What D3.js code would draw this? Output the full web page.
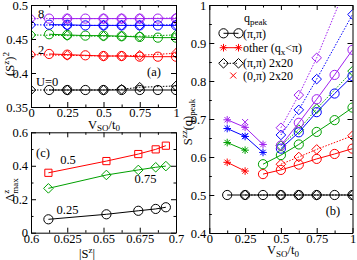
<!DOCTYPE html>
<html>
<head>
<meta charset="utf-8">
<script src="https://cdn.jsdelivr.net/npm/d3@7"></script>
<style>
  body { margin: 0; background: #fff; }
  svg text { font-family: "Liberation Serif", "Times New Roman", serif; fill: #000; }
</style>
</head>
<body>
<svg id="chart" width="357" height="260"></svg>
<script>
// one colour per U = 0, 2, 4, 6, 8
const colors = ['#000000', '#ff0000', '#00a000', '#0000ff', '#a020f0'];

// ---- panel (a): (S^z)^2 vs V_SO/t_0 ----
const vsoA = [0.125, 0.25, 0.375, 0.5, 0.625, 0.75, 0.875, 1];
const vsoA2x20 = [0, 0.25, 0.5, 0.625, 0.75, 1];
const sz2 = [
  [0.375, 0.375, 0.375, 0.375, 0.375, 0.375, 0.375, 0.375],
  [0.428, 0.427, 0.426, 0.425, 0.425, 0.424, 0.424, 0.424],
  [0.457, 0.456, 0.455, 0.455, 0.454, 0.453, 0.452, 0.452],
  [0.471, 0.471, 0.470, 0.470, 0.470, 0.470, 0.470, 0.470],
  [0.480, 0.480, 0.480, 0.480, 0.480, 0.480, 0.480, 0.480]
];
const sz2_2x20 = [
  [0.375, 0.375, 0.375, 0.376, 0.379, 0.381],
  [0.427, 0.426, 0.425, 0.425, 0.426, 0.429],
  [0.456, 0.455, 0.454, 0.454, 0.454, 0.456],
  [0.471, 0.470, 0.470, 0.470, 0.470, 0.471],
  [0.480, 0.480, 0.480, 0.480, 0.480, 0.481]
];

// ---- panel (b): S^zz(q)_peak vs V_SO/t_0 ----
const peakPiX = [
  [0.125, 0.25, 0.375, 0.5, 0.625, 0.75, 0.875, 1],
  [0.375, 0.5, 0.625, 0.75, 0.875, 1],
  [0.375, 0.5, 0.625, 0.75, 0.875, 1],
  [0.5, 0.625, 0.75, 0.875, 1],
  [0.5, 0.625, 0.75, 0.875, 1]
];
const peakPiY = [
  [0.5, 0.5, 0.5, 0.5, 0.5, 0.5, 0.5, 0.5],
  [0.555, 0.566, 0.58, 0.595, 0.608, 0.622],
  [0.581, 0.605, 0.633, 0.666, 0.697, 0.73],
  [0.622, 0.665, 0.718, 0.767, 0.813],
  [0.63, 0.69, 0.752, 0.816, 0.882]
];
const peakOtherX = [[], [0.125, 0.25], [0.125, 0.25], [0.125, 0.25, 0.375], [0.125, 0.25, 0.375]];
const peakOtherY = [[], [0.586, 0.563], [0.638, 0.618], [0.675, 0.654, 0.612], [0.698, 0.678, 0.633]];
const peak2x20X = [
  [0.25, 0.5, 0.625, 0.75, 1],
  [0.5, 0.625, 0.75, 1],
  [0.5, 0.625, 0.75, 1],
  [0.5, 0.625, 0.75, 1],
  [0.5, 0.625, 0.75, 1]
];
const peak2x20Y = [
  [0.5, 0.5, 0.5, 0.5, 0.5],
  [0.581, 0.600, 0.620, 0.656],
  [0.630, 0.672, 0.727, 0.826],
  [0.658, 0.724, 0.805, 0.975],
  [0.677, 0.763, 0.861, 1.09]
];
const peak0PiX = [[], [], [], [0.25], [0.25]];
const peak0PiY = [[], [], [], [0.655], [0.692]];
const legendLabels = ['(\u03c0,\u03c0)', 'other (q', '(\u03c0,\u03c0) 2x20', '(0,\u03c0) 2x20'];

// ---- panel (c): Delta^z_max vs |S^z| ----
const absSz = [0.612, 0.652, 0.674, 0.686, 0.693];
const vsoC = ['0.25', '0.5', '0.75'];
const deltaMax = [
  [0.080, 0.110, 0.131, 0.142, 0.152],
  [0.358, 0.428, 0.470, 0.498, 0.520],
  [0.265, 0.345, 0.375, 0.391, 0.398]
];
const deltaColors = ['#000000', '#ff0000', '#00a000'];
const deltaMarkers = ['circle', 'square', 'diamond'];

// tick values
const ticksVso = [0, 0.25, 0.5, 0.75, 1];
const ticksSz2 = [0.35, 0.4, 0.45, 0.5];
const ticksPeak = [0.4, 0.5, 0.6, 0.7, 0.8, 0.9, 1];
const ticksAbsSz = [0.6, 0.625, 0.65, 0.675, 0.7];
const ticksDelta = [0, 0.2, 0.4, 0.6];

const svg = d3.select('#chart');
const FONT = 12.5;

const markerPath = {
  circle: r => `M${r},0A${r},${r} 0 1,1 ${-r},0A${r},${r} 0 1,1 ${r},0Z`,
  diamond: r => `M0,${-r}L${r},0L0,${r}L${-r},0Z`,
  square: r => `M${-r},${-r}H${r}V${r}H${-r}Z`,
  star: r => {
    const d = r * Math.SQRT1_2;
    return `M${-r},0H${r}M0,${-r}V${r}M${-d},${-d}L${d},${d}M${-d},${d}L${d},${-d}`;
  },
  cross: r => `M${-r},${-r}L${r},${r}M${-r},${r}L${r},${-r}`
};
const markerSize = { circle: 4.6, diamond: 4.8, square: 3.6, star: 3.8, cross: 3 };

function fmt (d) { return String(+d.toFixed(3)); }

// four inward-ticked axes, labels only bottom / left
function drawFrame (g, x, y, o) {
  const [x0, x1] = x.range();
  const [y0, y1] = y.range();
  const sides = [
    [d3.axisBottom, x, `translate(0,${y0})`, true],
    [d3.axisTop, x, `translate(0,${y1})`, false],
    [d3.axisLeft, y, `translate(${x0},0)`, true],
    [d3.axisRight, y, `translate(${x1},0)`, false]
  ];
  sides.forEach(([make, scale, tr, labels], i) => {
    const isX = i < 2;
    const major = isX ? o.xTicks : o.yTicks;
    const step = isX ? o.xMinor : o.yMinor;
    const dom = scale.domain();
    const minor = d3.range(dom[0], dom[1] + 1e-9, step)
      .filter(v => !major.some(m => Math.abs(m - v) < 1e-9));

    g.append('g').attr('transform', tr)
      .call(make(scale).tickValues(minor).tickSize(-2.5).tickSizeOuter(0).tickFormat(''))
      .call(s => s.select('.domain').remove());

    g.append('g').attr('transform', tr)
      .call(make(scale).tickValues(major).tickSize(-5).tickSizeOuter(0)
        .tickPadding(isX ? 1 : 3).tickFormat(labels ? fmt : ''))
      .call(s => s.selectAll('text')
        .style('font-family', '"Liberation Serif", serif')
        .style('font-size', FONT + 'px'));
  });
  g.selectAll('.domain, .tick line').attr('stroke', '#000').attr('stroke-width', 1);
}

function drawSeries (g, x, y, xs, ys, color, marker, dashed) {
  const pts = xs.map((v, i) => [v, ys[i]]);
  if (pts.length > 1 && dashed !== null) {
    g.append('path')
      .datum(pts)
      .attr('fill', 'none')
      .attr('stroke', color)
      .attr('stroke-width', 1)
      .attr('stroke-dasharray', dashed ? '1.5,1.5' : null)
      .attr('d', d3.line().x(d => x(d[0])).y(d => y(d[1])));
  }
  g.append('g')
    .selectAll('path')
    .data(pts)
    .join('path')
    .attr('transform', d => `translate(${x(d[0])},${y(d[1])})`)
    .attr('d', markerPath[marker](markerSize[marker]))
    .attr('fill', 'none')
    .attr('stroke', color)
    .attr('stroke-width', 1);
}

function clip (id, x, y) {
  svg.append('clipPath').attr('id', id)
    .append('rect')
    .attr('x', x.range()[0]).attr('y', y.range()[1])
    .attr('width', x.range()[1] - x.range()[0])
    .attr('height', y.range()[0] - y.range()[1]);
  return `url(#${id})`;
}

function label (g, x, y, parts, opts = {}) {
  const t = g.append('text')
    .attr('x', x).attr('y', y)
    .attr('text-anchor', opts.anchor || 'start')
    .style('font-size', (opts.size || FONT) + 'px');
  if (opts.rotate) t.attr('transform', `rotate(-90,${x},${y})`);
  parts.forEach(p => {
    const s = t.append('tspan').text(p.t);
    if (p.dy) s.attr('dy', p.dy);
    if (p.dx) s.attr('dx', p.dx);
    if (p.small) s.style('font-size', '9px');
  });
  return t;
}

// ---------------- panel (a) ----------------
const xA = d3.scaleLinear().domain([0, 1]).range([31, 176]);
const yA = d3.scaleLinear().domain([0.35, 0.5]).range([107, 5]);
const gA = svg.append('g');
const plotA = gA.append('g').attr('clip-path', clip('clipA', xA, yA));
sz2.forEach((ys, k) => {
  drawSeries(plotA, xA, yA, vsoA2x20, sz2_2x20[k], colors[k], 'diamond', true);
  drawSeries(plotA, xA, yA, vsoA, ys, colors[k], 'circle', false);
});
drawFrame(gA, xA, yA, { xTicks: ticksVso, xMinor: 0.125, yTicks: ticksSz2, yMinor: 0.025 });
label(gA, 38, 17.5, [{ t: '8' }]);
label(gA, 38, 53.5, [{ t: '2' }]);
label(gA, 36, 86, [{ t: 'U=0' }]);
label(gA, 154, 76, [{ t: '(a)' }], { anchor: 'middle' });
label(gA, 14, 64, [{ t: '(S' }, { t: 'z', small: true, dy: -5 }, { t: ')', dy: 5 },
  { t: '2', small: true, dy: -5 }], { anchor: 'middle', rotate: true });
label(gA, 104, 128.5, [{ t: 'V' }, { t: 'SO', small: true, dy: 2.5 }, { t: '/t', dy: -2.5 },
  { t: '0', small: true, dy: 2.5 }], { anchor: 'middle' });

// ---------------- panel (c) ----------------
const xC = d3.scaleLinear().domain([0.6, 0.7]).range([31, 176]);
const yC = d3.scaleLinear().domain([0, 0.6]).range([232.7, 132.3]);
const gC = svg.append('g');
deltaMax.forEach((ys, k) => {
  drawSeries(gC, xC, yC, absSz, ys, deltaColors[k], deltaMarkers[k], false);
});
drawFrame(gC, xC, yC, { xTicks: ticksAbsSz, xMinor: 0.0125, yTicks: ticksDelta, yMinor: 0.1 });
label(gC, 43, 156.5, [{ t: '(c)' }], { anchor: 'middle' });
label(gC, 68, 164, [{ t: vsoC[1] }], { anchor: 'middle' });
label(gC, 145.5, 182.5, [{ t: vsoC[2] }], { anchor: 'middle' });
label(gC, 67.5, 213.5, [{ t: vsoC[0] }], { anchor: 'middle' });
label(gC, 14, 190, [{ t: '\u0394' }, { t: 'z', small: true, dy: -5 },
  { t: 'max', small: true, dx: -4, dy: 9 }], { anchor: 'middle', rotate: true });
label(gC, 87, 258, [{ t: '|S' }, { t: 'z', small: true, dy: -5 }, { t: '|', dy: 5 }],
  { anchor: 'middle' });

// ---------------- panel (b) ----------------
const xB = d3.scaleLinear().domain([0, 1]).range([209.3, 352.5]);
const yB = d3.scaleLinear().domain([0.4, 1]).range([233, 5]);
const gB = svg.append('g');
const plotB = gB.append('g').attr('clip-path', clip('clipB', xB, yB));
colors.forEach((c, k) => {
  drawSeries(plotB, xB, yB, peak2x20X[k], peak2x20Y[k], c, 'diamond', true);
  drawSeries(plotB, xB, yB, peakPiX[k], peakPiY[k], c, 'circle', false);
  drawSeries(plotB, xB, yB, peakOtherX[k], peakOtherY[k], c, 'star', false);
  drawSeries(plotB, xB, yB, peak0PiX[k], peak0PiY[k], c, 'cross', null);
});
drawFrame(gB, xB, yB, { xTicks: ticksVso, xMinor: 0.125, yTicks: ticksPeak, yMinor: 0.05 });

// legend: sample symbols drawn with a tiny local scale
const lg = gB.append('g');
const LEG = 12;
label(lg, 244, 22, [{ t: 'q' }, { t: 'peak', small: true, dy: 3 }], { size: LEG });
const legRows = [
  { y: 33.3, marker: 'circle', color: '#000', dashed: false },
  { y: 47.7, marker: 'star', color: '#ff0000', dashed: false },
  { y: 63.3, marker: 'diamond', color: '#000', dashed: true },
  { y: 75.5, marker: 'cross', color: '#ff0000', dashed: null }
];
const lx = d3.scaleLinear().domain([0, 1]).range([223.5, 238.5]);
legRows.forEach(r => {
  const ly = d3.scaleLinear().domain([0, 1]).range([r.y, r.y]);
  if (r.dashed === null) {
    drawSeries(lg, lx, ly, [0.65], [0], r.color, r.marker, null);
  } else {
    drawSeries(lg, lx, ly, [0, 1], [0, 0], r.color, r.marker, r.dashed);
  }
});
label(lg, 243, 37.5, [{ t: legendLabels[0] }], { size: LEG });
label(lg, 243, 52, [{ t: legendLabels[1] }, { t: 'x', small: true, dy: 3 },
  { t: '<\u03c0)', dy: -3 }], { size: LEG });
label(lg, 243, 67.3, [{ t: legendLabels[2] }], { size: LEG });
label(lg, 243, 79.8, [{ t: legendLabels[3] }], { size: LEG });

label(gB, 333, 214.5, [{ t: '(b)' }], { anchor: 'middle' });
label(gB, 192, 122, [{ t: 'S' }, { t: 'zz', small: true, dy: -5 }, { t: '(q)', dy: 5 },
  { t: 'peak', small: true, dy: 3 }], { anchor: 'middle', rotate: true });
label(gB, 283, 254, [{ t: 'V' }, { t: 'SO', small: true, dy: 3 }, { t: '/t', dy: -3 },
  { t: '0', small: true, dy: 3 }], { anchor: 'middle' });
</script>
</body>
</html>
